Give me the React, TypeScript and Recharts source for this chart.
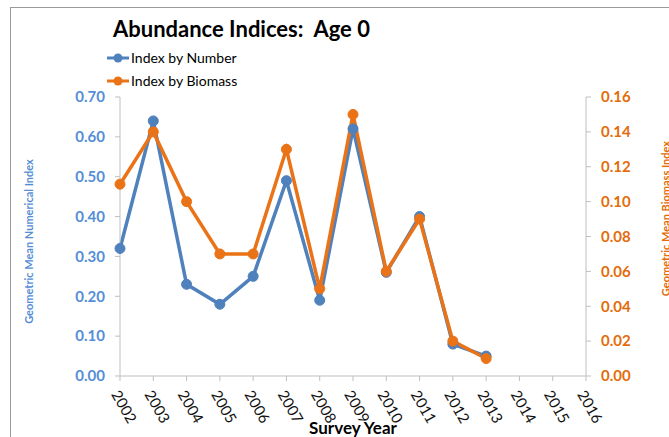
import React from 'react';
import { LineChart, Line, XAxis, YAxis, Legend } from 'recharts';

const years = ['2002', '2003', '2004', '2005', '2006', '2007', '2008', '2009', '2010', '2011', '2012', '2013', '2014', '2015', '2016'];
const indexByNumber: (number | null)[] = [0.32, 0.64, 0.23, 0.18, 0.25, 0.49, 0.19, 0.62, 0.26, 0.40, 0.08, 0.05, null, null, null];
const indexByBiomass: (number | null)[] = [0.11, 0.14, 0.10, 0.07, 0.07, 0.13, 0.05, 0.15, 0.06, 0.09, 0.02, 0.01, null, null, null];
const leftTicks = [0, 0.1, 0.2, 0.3, 0.4, 0.5, 0.6, 0.7];
const rightTicks = [0, 0.02, 0.04, 0.06, 0.08, 0.1, 0.12, 0.14, 0.16];

const data = years.map((y, i) => ({ year: y, number: indexByNumber[i], biomass: indexByBiomass[i] }));

const BLUE = '#4F81BD';
const BLUE_TXT = '#558ED5';
const ORANGE = '#EA7317';
const ORANGE_TXT = '#E46C0A';
const AXIS = '#BFBFBF';
const FONT = 'Lato, "Open Sans", sans-serif';

const legendItems = [
  { label: 'Index by Number', color: BLUE },
  { label: 'Index by Biomass', color: ORANGE },
];

const LegendContent = () => (
  <div style={{ fontFamily: FONT, fontSize: 14, color: '#000' }}>
    {legendItems.map((it) => (
      <div key={it.label} style={{ display: 'flex', alignItems: 'center', height: 23 }}>
        <svg width={22} height={12} style={{ marginRight: 2 }}>
          <line x1={0} y1={6} x2={22} y2={6} stroke={it.color} strokeWidth={3} />
          <circle cx={11} cy={6} r={4.5} fill={it.color} />
        </svg>
        <span>{it.label}</span>
      </div>
    ))}
  </div>
);

export default function App() {
  return (
    <div style={{ position: 'absolute', left: 0, top: 0, width: 669, height: 437, overflow: 'hidden', background: '#fff', fontFamily: FONT }}>
      <div style={{ position: 'absolute', left: 10, top: 7, width: 720, height: 520, border: '1px solid #9a9a9a' }} />
      <div style={{ position: 'absolute', left: 113, top: 15, fontSize: 22, fontWeight: 700, color: '#000', whiteSpace: 'pre' }}>
        {'Abundance Indices:  Age 0'}
      </div>
      <div style={{ position: 'absolute', left: 0, top: 0 }}>
        <LineChart width={669} height={437} data={data} margin={{ top: 97, right: 0, bottom: 0, left: 0 }}>
          <Legend
            layout="vertical"
            align="center"
            verticalAlign="middle"
            wrapperStyle={{ top: 46, left: 107, width: 200 }}
            content={<LegendContent />}
          />
          <XAxis
            dataKey="year"
            height={61}
            interval={0}
            stroke={AXIS}
            tickSize={5}
            tickMargin={8}
            tickLine={{ stroke: AXIS }}
            tick={{ angle: 60, textAnchor: 'start', fill: '#111', fontSize: 15, fontFamily: FONT }}
            label={{ value: 'Survey Year', position: 'insideBottom', offset: 3, fill: '#000', fontSize: 17, fontWeight: 700, fontFamily: FONT }}
          />
          <YAxis
            yAxisId="left"
            orientation="left"
            width={120}
            domain={[0, 0.7]}
            ticks={leftTicks}
            interval={0}
            stroke={AXIS}
            tickSize={5}
            tickMargin={10}
            tickFormatter={(v: number) => v.toFixed(2)}
            tick={{ fill: BLUE_TXT, fontSize: 15, fontWeight: 700, fontFamily: FONT }}
            label={{
              content: (p: any) => {
                const vb = p.viewBox;
                const cx = vb.x + 33;
                const cy = vb.y + vb.height / 2 + 5;
                return (
                  <text x={cx} y={cy} transform={`rotate(-90, ${cx}, ${cy})`} textAnchor="middle" fill={BLUE_TXT} fontSize={11} fontWeight={700} fontFamily={FONT}>
                    Geometric Mean Numerical Index
                  </text>
                );
              },
            }}
          />
          <YAxis
            yAxisId="right"
            orientation="right"
            width={83}
            domain={[0, 0.16]}
            ticks={rightTicks}
            interval={0}
            stroke={AXIS}
            tickSize={5}
            tickMargin={10}
            tickFormatter={(v: number) => v.toFixed(2)}
            tick={{ fill: ORANGE_TXT, fontSize: 15, fontWeight: 700, fontFamily: FONT }}
            label={{
              content: (p: any) => {
                const vb = p.viewBox;
                const cx = vb.x + 84;
                const cy = vb.y + vb.height / 2 - 18;
                return (
                  <text x={cx} y={cy} transform={`rotate(-90, ${cx}, ${cy})`} textAnchor="middle" fill={ORANGE_TXT} fontSize={11} fontWeight={700} fontFamily={FONT}>
                    Geometric Mean Biomass Index
                  </text>
                );
              },
            }}
          />
          <Line
            yAxisId="left"
            dataKey="number"
            stroke={BLUE}
            strokeWidth={3.5}
            dot={{ r: 5, fill: BLUE, stroke: BLUE, strokeWidth: 1 }}
            isAnimationActive={false}
            legendType="none"
          />
          <Line
            yAxisId="right"
            dataKey="biomass"
            stroke={ORANGE}
            strokeWidth={3.5}
            dot={{ r: 5, fill: ORANGE, stroke: ORANGE, strokeWidth: 1 }}
            isAnimationActive={false}
            legendType="none"
          />
        </LineChart>
      </div>
    </div>
  );
}
